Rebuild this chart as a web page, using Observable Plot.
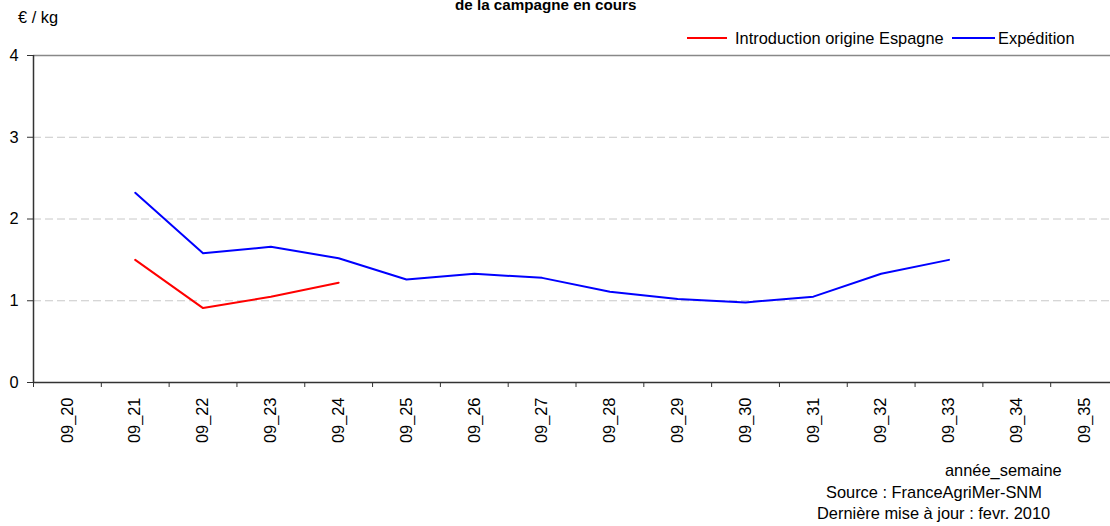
<!DOCTYPE html>
<html><head><meta charset="utf-8">
<script src="https://cdn.jsdelivr.net/npm/d3@7"></script>
<script src="https://cdn.jsdelivr.net/npm/@observablehq/plot@0.6"></script>
<style>
body{margin:0;background:#fff;font-family:"Liberation Sans",Arial,sans-serif;}
#wrap{position:relative;width:1110px;height:526px;overflow:hidden;background:#fff;}
#wrap svg{position:absolute;left:0;top:0;}
.t{position:absolute;white-space:nowrap;font-size:16.4px;color:#000;line-height:normal;}
.sw{position:absolute;height:2px;}
</style></head><body>
<div id="wrap"></div>
<script>
const weeks = ["09_20","09_21","09_22","09_23","09_24","09_25","09_26","09_27","09_28","09_29","09_30","09_31","09_32","09_33","09_34","09_35"];
const espagne = [null,1.50,0.91,1.05,1.22,null,null,null,null,null,null,null,null,null,null,null];
const expedition = [null,2.32,1.58,1.66,1.52,1.26,1.33,1.28,1.11,1.02,0.98,1.05,1.33,1.50,null,null];
const seriesNames = ["Introduction origine Espagne","Expédition"];
const seriesColors = ["#ff0000","#0000ff"];
const yTicks = [0,1,2,3,4];
const gridTicks = [1,2,3];

const rows = [];
[espagne, expedition].forEach((vals, s) => {
  vals.forEach((v, i) => { if (v != null) rows.push({x: i + 0.5, value: v, series: seriesNames[s]}); });
});

const plot = Plot.plot({
  width: 1110, height: 526,
  marginLeft: 33, marginRight: -8, marginTop: 55, marginBottom: 144,
  x: {domain: [0, weeks.length], axis: null},
  y: {domain: [0, 4], axis: null},
  color: {domain: seriesNames, range: seriesColors},
  style: {fontFamily: "'Liberation Sans', Arial, sans-serif", fontSize: "16.4px", background: "transparent", color: "#000"},
  marks: [
    Plot.ruleY(gridTicks, {stroke: "#c8c8c8", strokeDasharray: "8,4", strokeWidth: 1}),
    Plot.ruleY([4], {stroke: "#888", strokeWidth: 1.5}),
    Plot.axisY({ticks: yTicks, tickFormat: d => String(d), tickSize: 6, tickPadding: 9, label: null, fontSize: 16.4, stroke: "#333", strokeOpacity: 1}),
    Plot.axisX({ticks: d3.range(weeks.length + 1), tickSize: 5, tickFormat: () => "", label: null, stroke: "#333", strokeOpacity: 1}),
    Plot.axisX({ticks: weeks.map((w, i) => i + 0.5), tickFormat: t => weeks[Math.floor(t)], tickSize: 0, tickRotate: -90, tickPadding: 15, label: null, fontSize: 16.4}),
    Plot.ruleY([0], {stroke: "#333", strokeWidth: 1.5}),
    Plot.ruleX([0], {stroke: "#333", strokeWidth: 1.5}),
    Plot.line(rows, {x: "x", y: "value", z: "series", stroke: "series", strokeWidth: 2})
  ]
});
const wrap = document.getElementById("wrap");
wrap.appendChild(plot);

function addText(txt, left, top, extra) {
  const d = document.createElement("div");
  d.className = "t"; d.textContent = txt;
  d.style.left = left + "px"; d.style.top = top + "px";
  if (extra) Object.assign(d.style, extra);
  wrap.appendChild(d); return d;
}
function addSwatch(color, left, top, w) {
  const d = document.createElement("div");
  d.className = "sw"; d.style.background = color;
  d.style.left = left + "px"; d.style.top = top + "px"; d.style.width = w + "px";
  wrap.appendChild(d);
}
// title (partially cut at top)
addText("de la campagne en cours", 455, -4, {fontWeight: "bold", fontSize: "15.2px"});
// unit label
addText("€ / kg", 18, 8);
// legend
addSwatch(seriesColors[0], 687, 37, 40);
addText(seriesNames[0], 735, 29);
addSwatch(seriesColors[1], 952, 37, 43);
addText(seriesNames[1], 998, 29);
// footer
addText("année_semaine", 945, 461);
addText("Source : FranceAgriMer-SNM", 826, 483);
addText("Dernière mise à jour : fevr. 2010", 817, 504);
</script>
</body></html>
